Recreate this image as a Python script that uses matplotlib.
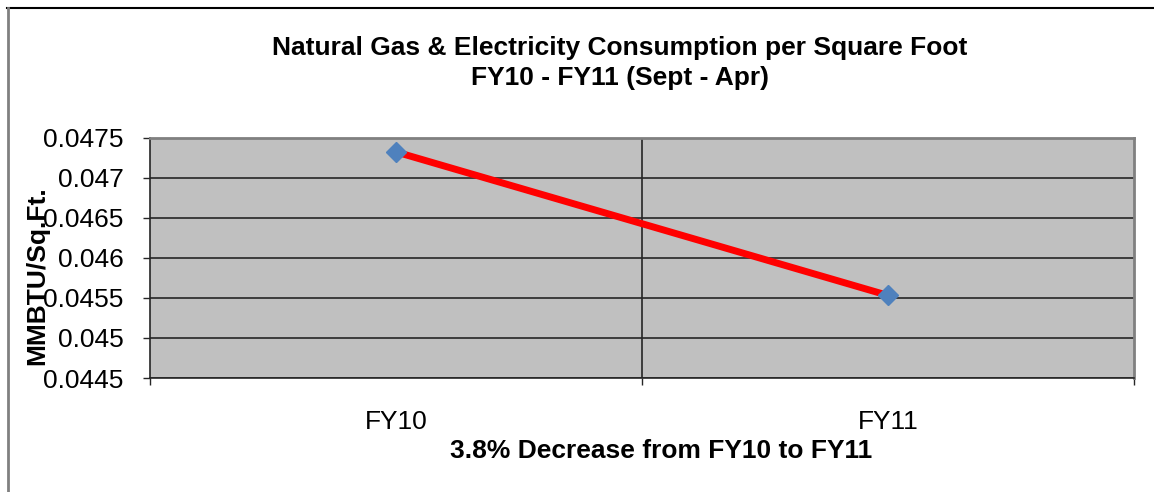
import matplotlib
matplotlib.use("Agg")
import matplotlib.pyplot as plt
from matplotlib.lines import Line2D

plt.rcParams["font.family"] = ["Liberation Sans", "DejaVu Sans"]

categories = ["FY10", "FY11"]
consumption = [0.04732, 0.04553]
y_ticks = [0.0445, 0.045, 0.0455, 0.046, 0.0465, 0.047, 0.0475]
y_tick_labels = ["0.0445", "0.045", "0.0455", "0.046", "0.0465", "0.047", "0.0475"]

title = "Natural Gas & Electricity Consumption per Square Foot\nFY10 - FY11 (Sept - Apr)"
x_label = "3.8% Decrease from FY10 to FY11"
y_label = "MMBTU/Sq.Ft."

fig = plt.figure(figsize=(11.54, 4.92), dpi=100)
ax = fig.add_axes([0.130, 0.2317, 0.8527, 0.4888])
ax.set_facecolor("#C0C0C0")

x = list(range(len(categories)))
ax.plot(x, consumption, color="#FF0000", linewidth=5, marker="D",
        markersize=10, markerfacecolor="#4F81BD", markeredgecolor="#4F81BD",
        zorder=3)

ax.set_xlim(-0.5, len(categories) - 0.5)
ax.set_ylim(y_ticks[0], y_ticks[-1])

# horizontal gridlines + vertical boundary between categories
ax.set_yticks(y_ticks)
ax.set_yticklabels(y_tick_labels, fontsize=19)
ax.grid(axis="y", color="#262626", linewidth=1.2)
ax.set_xticks([i - 0.5 for i in range(len(categories) + 1)])
ax.set_xticklabels([])
ax.set_xticks(x, minor=True)
ax.set_xticklabels(categories, minor=True, fontsize=19)
ax.tick_params(axis="x", which="minor", length=0, pad=23)
ax.tick_params(axis="x", which="major", length=5, width=1, color="#262626")
ax.tick_params(axis="y", length=5, width=1, color="#262626", pad=14)
for i in range(1, len(categories)):
    ax.axvline(i - 0.5, color="#262626", linewidth=1.2, zorder=1)

for side in ["top", "right"]:
    ax.spines[side].set_color("#808080")
    ax.spines[side].set_linewidth(2)
for side in ["left", "bottom"]:
    ax.spines[side].set_color("#262626")
    ax.spines[side].set_linewidth(1.2)

fig.text(0.537, 0.872, title, ha="center", va="center", fontsize=19,
         fontweight="bold", linespacing=1.3)
fig.text(0.573, 0.083, x_label, ha="center", va="center", fontsize=19,
         fontweight="bold")
fig.text(0.032, 0.44, y_label, ha="center", va="center", fontsize=19,
         fontweight="bold", rotation=90)

# outer frame: black top, grey left
fig.add_artist(Line2D([0.006, 1.0], [0.984, 0.984], color="black", linewidth=1.5,
                      transform=fig.transFigure))
fig.add_artist(Line2D([0.0065, 0.0065], [0.0, 0.984], color="#808080", linewidth=2,
                      transform=fig.transFigure))

fig.savefig("out.png", dpi=100)
